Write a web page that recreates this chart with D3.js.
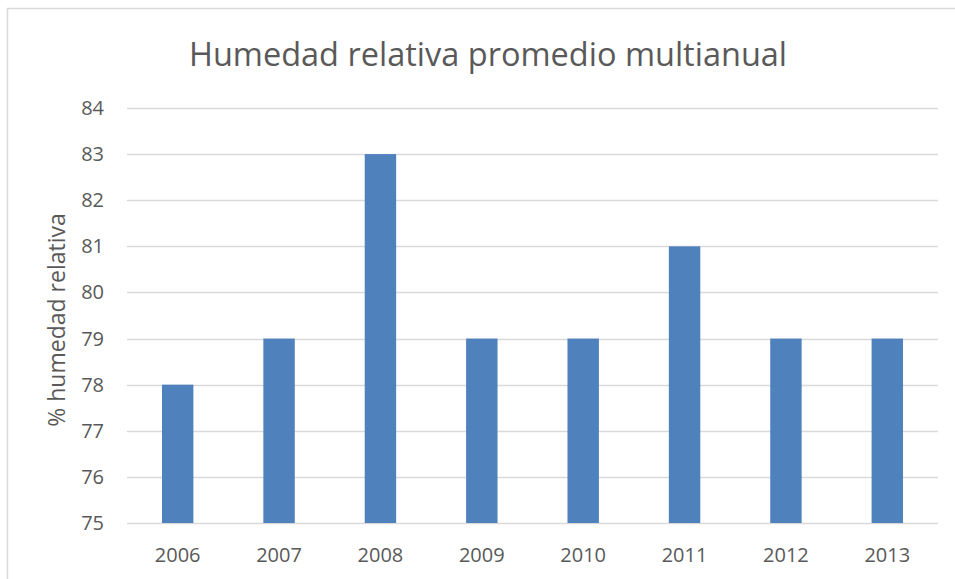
<!DOCTYPE html>
<html>
<head>
<meta charset="utf-8">
<script src="https://cdn.jsdelivr.net/npm/d3@7"></script>
<style>
  body { margin: 0; background: #fff; }
  text { font-family: "Open Sans", "Liberation Sans", sans-serif; fill: #595959; }
</style>
</head>
<body>
<div id="chart"></div>
<script>
var years = ["2006", "2007", "2008", "2009", "2010", "2011", "2012", "2013"];
var humedad = [78, 79, 83, 79, 79, 81, 79, 79];
var yTicks = [75, 76, 77, 78, 79, 80, 81, 82, 83, 84];

var width = 955, height = 579;
var margin = {top: 108, right: 17, bottom: 56, left: 127};

var svg = d3.select("#chart").append("svg")
	.attr("width", width)
	.attr("height", height);

// chart frame
svg.append("rect")
	.attr("x", 7.5).attr("y", 8.5)
	.attr("width", 980).attr("height", 620)
	.attr("fill", "none")
	.attr("stroke", "#d9d9d9")
	.attr("stroke-width", 1.5);

var x = d3.scaleBand()
	.domain(years)
	.range([margin.left, width - margin.right])
	.paddingInner(0.69)
	.paddingOuter(0.345);

var y = d3.scaleLinear()
	.domain([75, 84])
	.range([height - margin.bottom, margin.top]);

// gridlines
svg.append("g")
	.selectAll("line")
	.data(yTicks)
	.enter().append("line")
	.attr("x1", margin.left)
	.attr("x2", width - margin.right)
	.attr("y1", function(d) { return Math.round(y(d)) + 0.5; })
	.attr("y2", function(d) { return Math.round(y(d)) + 0.5; })
	.attr("stroke", "#d9d9d9")
	.attr("stroke-width", 1.5);

// y tick labels
svg.append("g")
	.selectAll("text")
	.data(yTicks)
	.enter().append("text")
	.attr("x", 104)
	.attr("y", function(d) { return y(d); })
	.attr("dy", "0.35em")
	.attr("text-anchor", "end")
	.style("font-size", "20px")
	.text(function(d) { return d; });

// bars
svg.append("g")
	.selectAll("rect")
	.data(humedad)
	.enter().append("rect")
	.attr("x", function(d, i) { return x(years[i]); })
	.attr("y", function(d) { return y(d); })
	.attr("width", x.bandwidth())
	.attr("height", function(d) { return y(75) - y(d); })
	.attr("fill", "#4f81bd");

// x labels
svg.append("g")
	.selectAll("text")
	.data(years)
	.enter().append("text")
	.attr("x", function(d) { return x(d) + x.bandwidth() / 2; })
	.attr("y", 562)
	.attr("text-anchor", "middle")
	.style("font-size", "20px")
	.text(function(d) { return d; });

// title
svg.append("text")
	.attr("x", 488)
	.attr("y", 66)
	.attr("text-anchor", "middle")
	.style("font-size", "32.5px")
	.text("Humedad relativa promedio multianual");

// y axis title
svg.append("text")
	.attr("transform", "translate(65,320) rotate(-90)")
	.attr("text-anchor", "middle")
	.style("font-size", "23px")
	.text("% humedad relativa");
</script>
</body>
</html>
